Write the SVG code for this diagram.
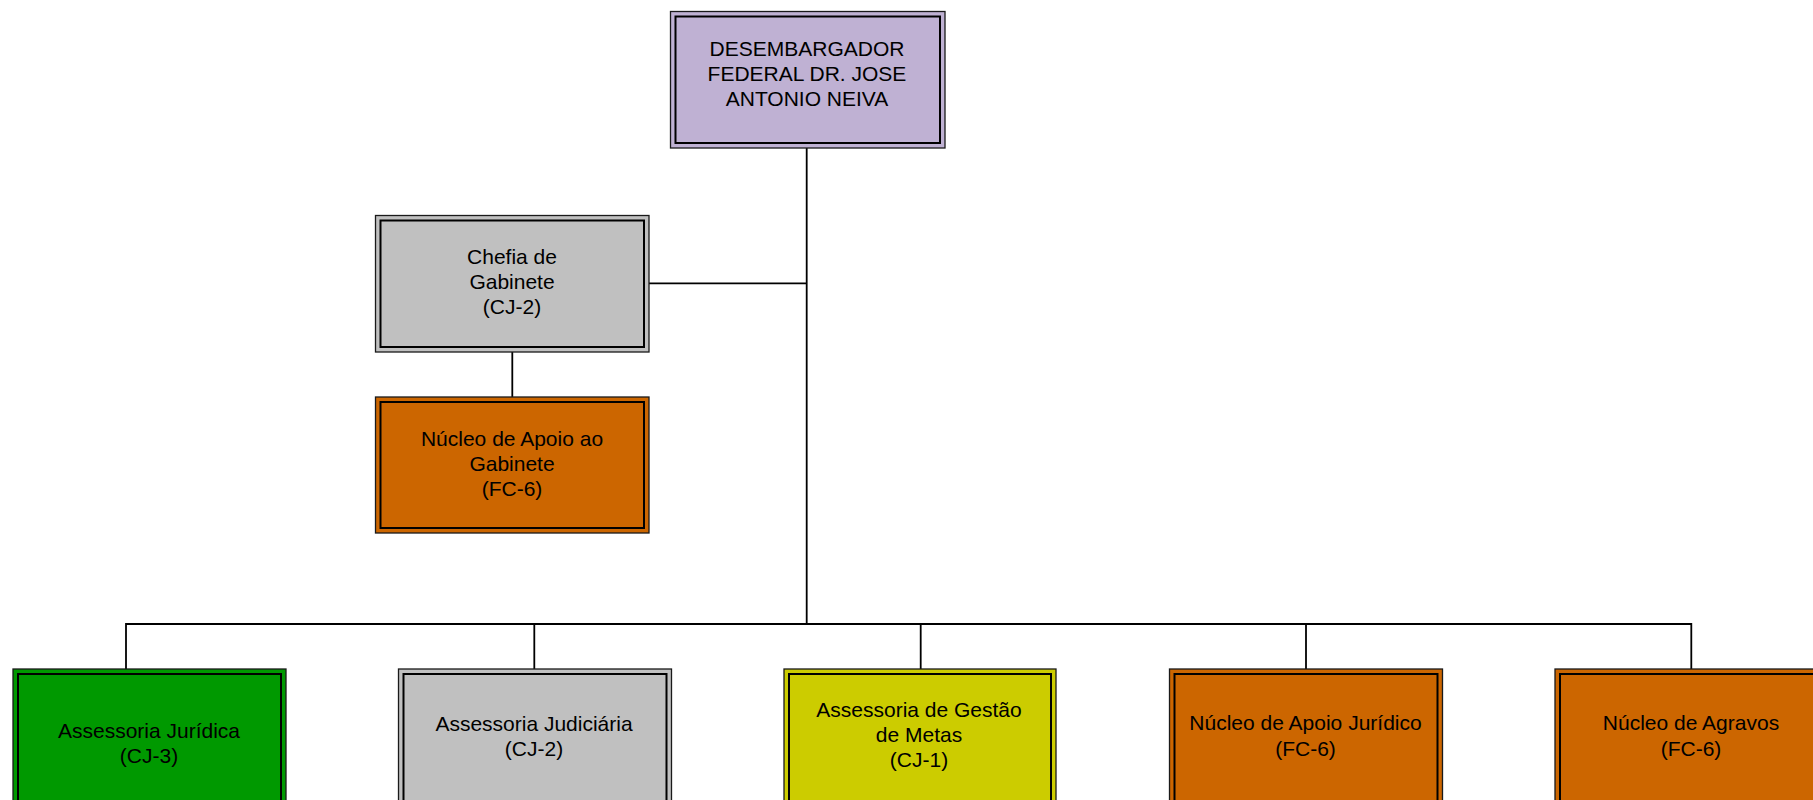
<svg xmlns="http://www.w3.org/2000/svg" width="1813" height="800" viewBox="0 0 1813 800">
<style>
.o{stroke:#1a1a1a;stroke-width:1.3}
.i{fill:none;stroke:#000;stroke-width:2}
.t{font-family:"Liberation Sans",Arial,sans-serif;font-size:21px;fill:#000;text-anchor:middle}
.c{fill:none;stroke:#000;stroke-width:1.8}
.lav{fill:#BFB1D3}.gry{fill:#C0C0C0}.org{fill:#CC6600}.grn{fill:#009900}.yel{fill:#CCCC00}
</style>
<rect width="1813" height="800" fill="#fff"/>
<g id="connectors">
<line class="c" x1="806.7" y1="148" x2="806.7" y2="624"/>
<line class="c" x1="649" y1="283.3" x2="806.7" y2="283.3"/>
<line class="c" x1="512.3" y1="352" x2="512.3" y2="397"/>
<polyline class="c" points="126,669 126,624 1691.3,624 1691.3,669"/>
<line class="c" x1="534.3" y1="624" x2="534.3" y2="669"/>
<line class="c" x1="920.7" y1="624" x2="920.7" y2="669"/>
<line class="c" x1="1306" y1="624" x2="1306" y2="669"/>
</g>
<g id="desembargador">
<rect class="o lav" x="670.5" y="11.5" width="274.5" height="136.5"/>
<rect class="i" x="675.5" y="16.5" width="264.5" height="126.5"/>
<text class="t" x="807" y="56">DESEMBARGADOR</text>
<text class="t" x="807" y="81">FEDERAL DR. JOSE</text>
<text class="t" x="807" y="106">ANTONIO NEIVA</text>
</g>
<g id="chefia">
<rect class="o gry" x="375.5" y="215.5" width="273.5" height="136.5"/>
<rect class="i" x="380.5" y="220.5" width="263.5" height="126.5"/>
<text class="t" x="512" y="264">Chefia de</text>
<text class="t" x="512" y="289">Gabinete</text>
<text class="t" x="512" y="314">(CJ-2)</text>
</g>
<g id="nucleo-gabinete">
<rect class="o org" x="375.5" y="397" width="273.5" height="136"/>
<rect class="i" x="380.5" y="402" width="263.5" height="126"/>
<text class="t" x="512" y="446">Núcleo de Apoio ao</text>
<text class="t" x="512" y="471">Gabinete</text>
<text class="t" x="512" y="496">(FC-6)</text>
</g>
<g id="assessoria-juridica">
<rect class="o grn" x="13" y="669" width="273" height="137"/>
<rect class="i" x="18" y="674" width="263" height="127"/>
<text class="t" x="149" y="738">Assessoria Jurídica</text>
<text class="t" x="149" y="763">(CJ-3)</text>
</g>
<g id="assessoria-judiciaria">
<rect class="o gry" x="398.5" y="669" width="273" height="137"/>
<rect class="i" x="403.5" y="674" width="263" height="127"/>
<text class="t" x="534" y="731">Assessoria Judiciária</text>
<text class="t" x="534" y="756">(CJ-2)</text>
</g>
<g id="assessoria-gestao">
<rect class="o yel" x="784" y="669" width="272" height="137"/>
<rect class="i" x="789" y="674" width="262" height="127"/>
<text class="t" x="919" y="717">Assessoria de Gestão</text>
<text class="t" x="919" y="742">de Metas</text>
<text class="t" x="919" y="767">(CJ-1)</text>
</g>
<g id="nucleo-juridico">
<rect class="o org" x="1169.5" y="669" width="273" height="137"/>
<rect class="i" x="1174.5" y="674" width="263" height="127"/>
<text class="t" x="1305.5" y="730">Núcleo de Apoio Jurídico</text>
<text class="t" x="1305.5" y="755.5">(FC-6)</text>
</g>
<g id="nucleo-agravos">
<rect class="o org" x="1555" y="669" width="273" height="137"/>
<rect class="i" x="1560" y="674" width="263" height="127"/>
<text class="t" x="1691" y="730">Núcleo de Agravos</text>
<text class="t" x="1691" y="755.5">(FC-6)</text>
</g>
</svg>
